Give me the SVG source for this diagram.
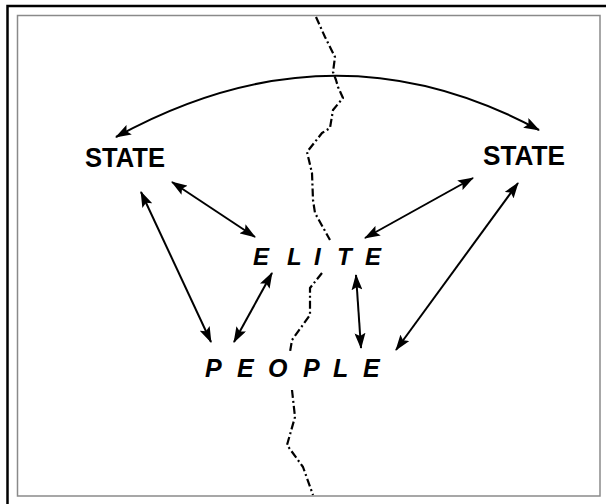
<svg xmlns="http://www.w3.org/2000/svg" width="606" height="504" viewBox="0 0 606 504">
<defs>
<marker id="ah" viewBox="0 0 16 11" refX="15" refY="5.5" markerWidth="16" markerHeight="11" markerUnits="userSpaceOnUse" orient="auto-start-reverse">
<path d="M0,0 L16,5.5 L0,11 L3,5.5 z" fill="#000"/>
</marker>
<style>
.lbl{font-family:"Liberation Sans",Arial,sans-serif;font-weight:bold;fill:#000}
.it{font-style:italic}
.arr{fill:none;stroke:#000;stroke-width:2;marker-start:url(#ah);marker-end:url(#ah)}
.div{fill:none;stroke:#000;stroke-width:2.2;stroke-dasharray:8 3 2 3;stroke-linejoin:round}
</style>
</defs>
<rect width="606" height="504" fill="#fff"/>
<g id="frame">
<path d="M7.5,504 V6 H606" fill="none" stroke="#000" stroke-width="2.5"/>
<rect x="17.5" y="15.5" width="582.5" height="480.5" fill="none" stroke="#8a8a8a" stroke-width="1.5"/>
</g>
<g id="divide">
<polyline class="div" points="316,17 325,37 335,57 333,72 336,80 338,87 343,98 333,110 330,128 322,133 307,152 312,173 313,200 315,213 330,240"/>
<polyline class="div" points="322,273 310,288 310,315 292,340 290,352"/>
<polyline class="div" points="292,390 295,417 287,445 303,467 313,495"/>
</g>
<g id="connectors">
<path class="arr" d="M116,137 Q332,18 539,130" stroke-width="2.6"/>
<line class="arr" x1="172" y1="182" x2="255" y2="237"/>
<line class="arr" x1="141" y1="192" x2="211" y2="342"/>
<line class="arr" x1="272" y1="273" x2="234" y2="342"/>
<line class="arr" x1="356" y1="275" x2="361" y2="348"/>
<line class="arr" x1="473" y1="178" x2="365" y2="238"/>
<line class="arr" x1="518" y1="183" x2="396" y2="350"/>
</g>
<g id="state-left"><text class="lbl" x="85" y="167" font-size="28" textLength="80" lengthAdjust="spacingAndGlyphs">STATE</text></g>
<g id="state-right"><text class="lbl" x="483" y="165" font-size="28" textLength="82" lengthAdjust="spacingAndGlyphs">STATE</text></g>
<g id="elite"><text class="lbl it" font-size="24" x="253 287 314 337 365" y="265">ELITE</text></g>
<g id="people"><text class="lbl it" font-size="25" x="205 237 268 303 333 363" y="377">PEOPLE</text></g>
</svg>
